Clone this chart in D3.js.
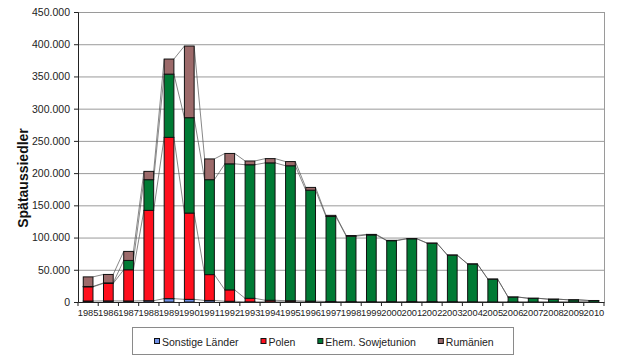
<!DOCTYPE html>
<html>
<head>
<meta charset="utf-8">
<script src="https://cdn.jsdelivr.net/npm/d3@7"></script>
<style>
  body { margin: 0; background: #fff; }
  text { font-family: "Liberation Sans", Arial, sans-serif; fill: #222; }
</style>
</head>
<body>
<svg id="chart" width="625" height="361"></svg>
<script>
// Spätaussiedler nach Herkunftsgebieten
var years = ["1985","1986","1987","1988","1989","1990","1991","1992","1993","1994","1995","1996","1997",
             "1998","1999","2000","2001","2002","2003","2004","2005","2006","2007","2008","2009","2010"];
var sonstige = [1500, 1700, 1600, 2000, 5200, 4100, 2400, 1100, 300, 300, 300, 100, 60,
                40, 30, 30, 50, 20, 15, 10, 7, 1, 0, 0, 0, 0];
var polen = [22100, 27200, 48400, 140200, 250300, 133900, 40100, 17700, 5400, 2400, 1700, 1200, 700,
             490, 430, 480, 620, 550, 440, 280, 80, 80, 70, 50, 30, 25];
var sowjet = [460, 750, 14500, 47600, 98100, 148000, 147300, 195600, 207300, 213200, 209400, 172200, 131900,
              101600, 103600, 94600, 97400, 90600, 72300, 58700, 35400, 7600, 5700, 4300, 3300, 2300];
var rumaenien = [14900, 13100, 14000, 12900, 23400, 111200, 32200, 16100, 5800, 6600, 6500, 4300, 1800,
                 1000, 860, 550, 380, 260, 140, 80, 40, 40, 30, 15, 35, 25];
var seriesNames = ["Sonstige Länder", "Polen", "Ehem. Sowjetunion", "Rumänien"];
var seriesColors = ["#6f8fe6", "#ff101e", "#007a34", "#9c6a6a"];
var yTicks = [0, 50000, 100000, 150000, 200000, 250000, 300000, 350000, 400000, 450000];

var svg = d3.select("#chart");
var plot = {left: 78, right: 604, top: 12, bottom: 302};

var de = d3.formatLocale({decimal: ",", thousands: ".", grouping: [3], currency: ["", " €"]});
var fmt = de.format(",");

var xScale = d3.scaleBand()
    .domain(years)
    .range([plot.left, plot.right])
    .paddingInner(0.52)
    .paddingOuter(0.26);

var yScale = d3.scaleLinear()
    .domain([0, 450000])
    .range([plot.bottom, plot.top]);

var table = years.map(function(y, i) {
    return {year: y, s0: sonstige[i], s1: polen[i], s2: sowjet[i], s3: rumaenien[i]};
});
var stacked = d3.stack().keys(["s0", "s1", "s2", "s3"])(table);

// gridlines
svg.append("g")
    .selectAll("line")
    .data(yTicks.slice(1))
    .enter().append("line")
    .attr("x1", plot.left).attr("x2", plot.right)
    .attr("y1", function(d) { return yScale(d) + 0.5; })
    .attr("y2", function(d) { return yScale(d) + 0.5; })
    .style("stroke", "#9a9a9a")
    .style("stroke-width", 1);

// right border
svg.append("line")
    .attr("x1", plot.right + 0.5).attr("x2", plot.right + 0.5)
    .attr("y1", plot.top).attr("y2", plot.bottom)
    .style("stroke", "#9a9a9a");

// series lines between bars
var bw = xScale.bandwidth();
stacked.forEach(function(layer) {
    svg.append("g")
        .selectAll("line")
        .data(layer.slice(0, -1))
        .enter().append("line")
        .attr("x1", function(d, i) { return xScale(years[i]) + bw; })
        .attr("y1", function(d) { return yScale(d[1]); })
        .attr("x2", function(d, i) { return xScale(years[i + 1]); })
        .attr("y2", function(d, i) { return yScale(layer[i + 1][1]); })
        .style("stroke", "#555")
        .style("stroke-width", 0.7);
});

// bars
svg.append("g")
    .selectAll("g")
    .data(stacked)
    .enter().append("g")
    .style("fill", function(d, i) { return seriesColors[i]; })
    .selectAll("rect")
    .data(function(d) { return d; })
    .enter().append("rect")
    .attr("x", function(d) { return xScale(d.data.year); })
    .attr("width", bw)
    .attr("y", function(d) { return yScale(d[1]); })
    .attr("height", function(d) { return Math.max(0, yScale(d[0]) - yScale(d[1])); })
    .style("stroke", "#111")
    .style("stroke-width", 1);

// y axis
var yAxis = svg.append("g")
    .attr("transform", "translate(" + plot.left + ",0)")
    .call(d3.axisLeft(yScale).tickValues(yTicks).tickFormat(fmt).tickSize(4).tickPadding(4));
yAxis.select(".domain").style("stroke", "#222");
yAxis.selectAll(".tick line").style("stroke", "#222");
yAxis.selectAll("text").style("font-size", "10.5px").style("fill", "#222");

// x axis
var xAxis = svg.append("g")
    .attr("transform", "translate(0," + plot.bottom + ")")
    .call(d3.axisBottom(xScale).tickSize(0).tickPadding(7));
xAxis.select(".domain").style("stroke", "#222");
xAxis.selectAll("text").style("font-size", "9.3px").style("fill", "#222");

// x ticks at band borders
svg.append("g")
    .selectAll("line")
    .data(years.concat(["end"]))
    .enter().append("line")
    .attr("x1", function(d, i) { return plot.left + i * xScale.step(); })
    .attr("x2", function(d, i) { return plot.left + i * xScale.step(); })
    .attr("y1", plot.bottom)
    .attr("y2", plot.bottom + 4)
    .style("stroke", "#222");

// y title
svg.append("text")
    .attr("transform", "translate(28,178) rotate(-90)")
    .attr("text-anchor", "middle")
    .style("font-size", "14px")
    .style("font-weight", "bold")
    .style("fill", "#111")
    .text("Spätaussiedler");

// legend
svg.append("rect")
    .attr("x", 132.5).attr("y", 327.5)
    .attr("width", 381).attr("height", 27)
    .style("fill", "#fff")
    .style("stroke", "#8a8a8a");

var lx = 154;
seriesNames.forEach(function(name, i) {
    svg.append("rect")
        .attr("x", lx + 0.5).attr("y", 338.5)
        .attr("width", 5).attr("height", 5)
        .style("fill", seriesColors[i])
        .style("stroke", "#111");
    var t = svg.append("text")
        .attr("x", lx + 8)
        .attr("y", 345.5)
        .style("font-size", "10.5px")
        .style("fill", "#222")
        .text(name);
    lx = lx + 8 + t.node().getComputedTextLength() + 22;
});
</script>
</body>
</html>
